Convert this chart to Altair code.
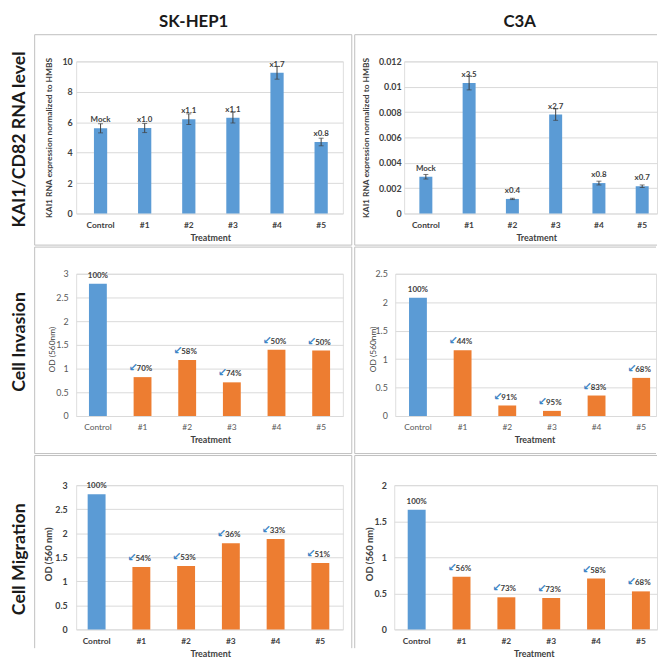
import altair as alt
import pandas as pd

# ---------------- data ----------------
treatments = ["Control", "#1", "#2", "#3", "#4", "#5"]

skhep_rna = [5.6, 5.62, 6.2, 6.3, 9.25, 4.7]
skhep_rna_err = [0.3, 0.3, 0.35, 0.35, 0.42, 0.25]
skhep_rna_labels = ["Mock", "x1.0", "x1.1", "x1.1", "x1.7", "x0.8"]

c3a_rna = [0.0029, 0.0103, 0.00115, 0.0078, 0.0024, 0.00215]
c3a_rna_err = [0.00018, 0.00055, 0.00005, 0.00045, 0.00015, 0.0001]
c3a_rna_labels = ["Mock", "x3.5", "x0.4", "x2.7", "x0.8", "x0.7"]

skhep_inv = [2.79, 0.82, 1.18, 0.71, 1.40, 1.38]
skhep_inv_labels = ["100%", "70%", "58%", "74%", "50%", "50%"]
c3a_inv = [2.08, 1.155, 0.185, 0.09, 0.36, 0.67]
c3a_inv_labels = ["100%", "44%", "91%", "95%", "83%", "68%"]

skhep_mig = [2.81, 1.30, 1.32, 1.79, 1.88, 1.38]
skhep_mig_labels = ["100%", "54%", "53%", "36%", "33%", "51%"]
c3a_mig = [1.66, 0.73, 0.445, 0.435, 0.705, 0.527]
c3a_mig_labels = ["100%", "56%", "73%", "73%", "58%", "68%"]

skhep_rna_ticks = [0, 2, 4, 6, 8, 10]
c3a_rna_ticks = [0, 0.002, 0.004, 0.006, 0.008, 0.01, 0.012]
skhep_inv_ticks = [0, 0.5, 1, 1.5, 2, 2.5, 3]
c3a_inv_ticks = [0, 0.5, 1, 1.5, 2, 2.5]
skhep_mig_ticks = [0, 0.5, 1, 1.5, 2, 2.5, 3]
c3a_mig_ticks = [0, 0.5, 1, 1.5, 2]

column_titles = ["SK-HEP1", "C3A"]
row_titles = ["KAI1/CD82 RNA level", "Cell Invasion", "Cell Migration"]
rna_ytitle = "KAI1 RNA expression normalized to HMBS"
inv_ytitle = "OD (560nm)"
mig_ytitle = "OD (560 nm)"
x_title = "Treatment"
ARROW = "\u2199"

# ---------------- style ----------------
BLUE = "#5B9BD5"
ORANGE = "#ED7D31"
GRID = "#D9D9D9"
FRAME = "#BFBFBF"
DARK = "#404040"
MID = "#595959"
FONT = "Lato"

one = pd.DataFrame({"k": [0]})


def band(W, step, c0, pi, n=6):
    extra = W - step * (n - pi)
    po = extra / (2 * step)
    al = (c0 - (1 - pi) * step / 2) / extra
    return max(po, 0), min(max(al, 0), 1)


def frame_layers(fl, fr, ft, fb, right=True, bottom=True):
    rule = alt.Chart(one).mark_rule(color=FRAME, strokeWidth=1)
    lay = [
        rule.encode(x=alt.value(fl), x2=alt.value(fr), y=alt.value(ft)),
        rule.encode(x=alt.value(fl), y=alt.value(ft), y2=alt.value(fb)),
    ]
    if right:
        lay.append(rule.encode(x=alt.value(fr), y=alt.value(ft), y2=alt.value(fb)))
    if bottom:
        lay.append(rule.encode(x=alt.value(fl), x2=alt.value(fr), y=alt.value(fb)))
    return lay


def big_text(txt, x, y, size, angle=0):
    return alt.Chart(one).mark_text(
        font=FONT, fontSize=size, fontWeight="bold", color="#1A1A1A",
        align="center", baseline="middle", angle=angle,
    ).encode(x=alt.value(x), y=alt.value(y), text=alt.value(txt))


def panel(values, labels, ticks, ytitle, kind, W, H, pi, step, c0, frame,
          ytx, yty, xtx, ylab_pad, bold, ytsize, err=None, right=True,
          bottom=True, extras=()):
    po, al = band(W, step, c0, pi)
    n = len(treatments)
    df = pd.DataFrame({"treatment": treatments, "value": values, "label": labels})
    if kind == "rna":
        df["color"] = [BLUE] * n
        df["lo"] = [v - e for v, e in zip(values, err)]
        df["hi"] = [v + e for v, e in zip(values, err)]
    else:
        df["color"] = [BLUE] + [ORANGE] * (n - 1)
    w = "bold" if bold else "normal"
    xscale = alt.Scale(paddingInner=pi, paddingOuter=po, align=al)
    yscale = alt.Scale(domain=[ticks[0], ticks[-1]], nice=False)
    xaxis = alt.Axis(
        labelAngle=0, ticks=False, tickSize=0, domain=False, grid=False,
        labelOverlap=False, labelPadding=11, labelBaseline="middle",
        labelFont=FONT, labelFontSize=8.5, labelColor=DARK if bold else MID,
        labelFontWeight=w, title=x_title, titleFont=FONT, titleFontSize=9,
        titleFontWeight="bold", titleColor=DARK, titleX=xtx, titleY=24,
        titleBaseline="middle", titleAlign="center",
    )
    yaxis = alt.Axis(
        values=ticks, tickCount=30, format="~g", grid=True, gridColor=GRID,
        gridWidth=1, domain=False, ticks=False, tickSize=0,
        labelPadding=ylab_pad, labelOverlap=False, labelFont=FONT,
        labelFontSize=9, labelColor=DARK if bold else MID, labelFontWeight=w,
        title=ytitle, titleFont=FONT, titleFontSize=ytsize,
        titleFontWeight="bold" if bold else "normal", titleColor=DARK,
        titleX=ytx, titleY=yty, titleAngle=270, titleAlign="center",
        titleBaseline="middle",
    )
    X = alt.X("treatment:N", sort=treatments, scale=xscale, axis=xaxis)
    Xn = alt.X("treatment:N", sort=treatments, scale=xscale)
    Y = alt.Y("value:Q", scale=yscale, axis=yaxis)
    Yn = alt.Y("value:Q", scale=yscale)
    base = alt.Chart(df)
    layers = [base.mark_bar().encode(x=X, y=Y, color=alt.Color("color:N", scale=None))]
    lab = dict(font=FONT, fontSize=8, fontWeight="bold", color=DARK, baseline="middle")
    if kind == "rna":
        Ylo = alt.Y("lo:Q", scale=yscale)
        Yhi = alt.Y("hi:Q", scale=yscale)
        layers.append(base.mark_rule(color=DARK, strokeWidth=1).encode(x=Xn, y=Ylo, y2=alt.Y2("hi")))
        layers.append(base.mark_tick(color=DARK, thickness=1, size=5).encode(x=Xn, y=Ylo))
        layers.append(base.mark_tick(color=DARK, thickness=1, size=5).encode(x=Xn, y=Yhi))
        layers.append(base.mark_text(align="center", dy=-8, **lab).encode(x=Xn, y=Yn, text="label:N"))
    else:
        ctrl = base.transform_filter(alt.datum.treatment == treatments[0])
        rest = base.transform_filter(alt.datum.treatment != treatments[0])
        layers.append(ctrl.mark_text(align="center", dy=-8, **lab).encode(x=Xn, y=Yn, text="label:N"))
        layers.append(rest.mark_text(align="left", dx=-6, dy=-8, **lab).encode(x=Xn, y=Yn, text="label:N"))
        layers.append(rest.mark_text(
            font="DejaVu Sans", fontSize=11, fontWeight="bold", color="#3D85C6",
            align="right", baseline="middle", dx=-5, dy=-9,
        ).encode(x=Xn, y=Yn, text=alt.value(ARROW)))
    layers += frame_layers(*frame, right=right, bottom=bottom)
    layers += list(extras)
    return alt.layer(*layers).properties(width=W, height=H)


WL = 270
H1, H2, H3 = 154, 144, 146

p11 = panel(skhep_rna, skhep_rna_labels, skhep_rna_ticks, rna_ytitle, "rna",
            WL, H1, 0.7, 44.66, 24.7, (-42, 279, -27, 186), -28, H1 / 2, 135.7,
            4, True, 8.5, err=skhep_rna_err,
            extras=[big_text(column_titles[0], 119, -40, 17),
                    big_text(row_titles[0], -57, 79, 18, 270)])
p12 = panel(c3a_rna, c3a_rna_labels, c3a_rna_ticks, rna_ytitle, "rna",
            256, H1, 0.7, 43.8, 22, (-50, 256, -27, 186), -39, H1 / 2, 133.7,
            3, True, 8.5, err=c3a_rna_err, right=False,
            extras=[big_text(column_titles[1], 117, -40, 17)])

p21 = panel(skhep_inv, skhep_inv_labels, skhep_inv_ticks, inv_ytitle, "pct",
            WL, H2, 0.6, 45.2, 22, (-42, 279, -27, 182), -25.3, 76.3, 135.7,
            8, False, 8.5,
            extras=[big_text(row_titles[1], -57, 69, 18, 270)])
p22 = panel(c3a_inv, c3a_inv_labels, c3a_inv_ticks, inv_ytitle, "pct",
            264, H2, 0.6, 45.2, 23, (-41, 264, -27, 182), -23.3, 76, 141,
            8, False, 8.5, right=False)

p31 = panel(skhep_mig, skhep_mig_labels, skhep_mig_ticks, mig_ytitle, "pct",
            WL, H3, 0.6, 45.3, 20.7, (-42, 279, -30, 165), -27.7, 69.5, 135.7,
            9, True, 9.5, bottom=False,
            extras=[big_text(row_titles[2], -57, 75, 18, 270)])
p32 = panel(c3a_mig, c3a_mig_labels, c3a_mig_ticks, mig_ytitle, "pct",
            266, H3, 0.6, 45.4, 22.7, (-40, 266, -30, 165), -24.7, 69.5, 141.3,
            8, True, 9.5, right=False, bottom=False)

row1 = alt.hconcat(p11, p12, spacing=1)
row2 = alt.hconcat(p21, p22, spacing=1)
row3 = alt.hconcat(p31, p32, spacing=1)

chart = (
    alt.vconcat(row1, row2, row3, spacing=0)
    .properties(padding={"left": 2, "top": 0, "right": 0, "bottom": 0})
    .configure_view(strokeWidth=0)
    .configure(background="white")
)

chart.save("out.html", embed_options={"renderer": "svg", "actions": False})
